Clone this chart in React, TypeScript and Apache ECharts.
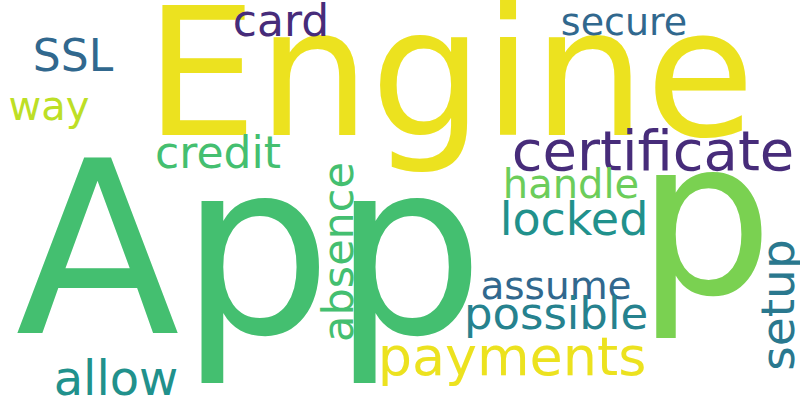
import React, { useEffect, useRef } from "react";
import * as echarts from "echarts";

const words = ["App", "Engine", "p", "payments", "certificate", "card", "secure", "SSL", "way", "credit", "handle", "locked", "absence", "assume", "possible", "setup", "allow"];
const weights = [240, 178, 215, 54, 56, 44, 38, 44, 40, 44, 40, 46, 43, 39, 45, 47, 48];
const colors = ["#44bf70", "#ece21f", "#7ad151", "#ece21f", "#472c7a", "#472c7a", "#31688e", "#31688e", "#bddf26", "#44bf70", "#6ccd5a", "#21918c", "#44bf70", "#31688e", "#26828e", "#2a788e", "#21918c"];
const rotations = [0, 0, 0, 0, 0, 0, 0, 0, 0, 0, 0, 0, 90, 0, 0, 90, 0];
// layout (word centres, px)
const layoutX = [250, 450, 705, 512, 653, 281, 624, 73, 49, 218, 571, 574, 338, 556, 556, 777, 116];
const layoutY = [250, 73, 218, 356, 150, 20, 22, 55, 106, 152, 184, 219, 252, 285, 313, 305, 378];

export default function App() {
  const ref = useRef<HTMLDivElement>(null);
  useEffect(() => {
    document.body.style.margin = "0";
    const chart = echarts.init(ref.current!, null, { renderer: "svg" });
    chart.setOption({
      animation: false,
      backgroundColor: "#ffffff",
      grid: { left: 0, right: 0, top: 0, bottom: 0 },
      xAxis: { type: "value", min: 0, max: 800, show: false },
      yAxis: { type: "value", min: 0, max: 400, inverse: true, show: false },
      series: [{
        type: "scatter",
        symbolSize: 0,
        itemStyle: { opacity: 1 },
        data: words.map((w, i) => ({
          value: [layoutX[i], layoutY[i]],
          name: w,
          label: {
            show: true,
            formatter: w,
            position: "inside",
            fontSize: weights[i],
            color: colors[i],
            opacity: 1,
            rotate: rotations[i],
            fontFamily: "DejaVu Sans",
            lineHeight: weights[i],
          },
        })),
        labelLayout: { hideOverlap: false },
      }],
    });
    return () => chart.dispose();
  }, []);
  return <div ref={ref} style={{ width: 800, height: 400 }} />;
}
